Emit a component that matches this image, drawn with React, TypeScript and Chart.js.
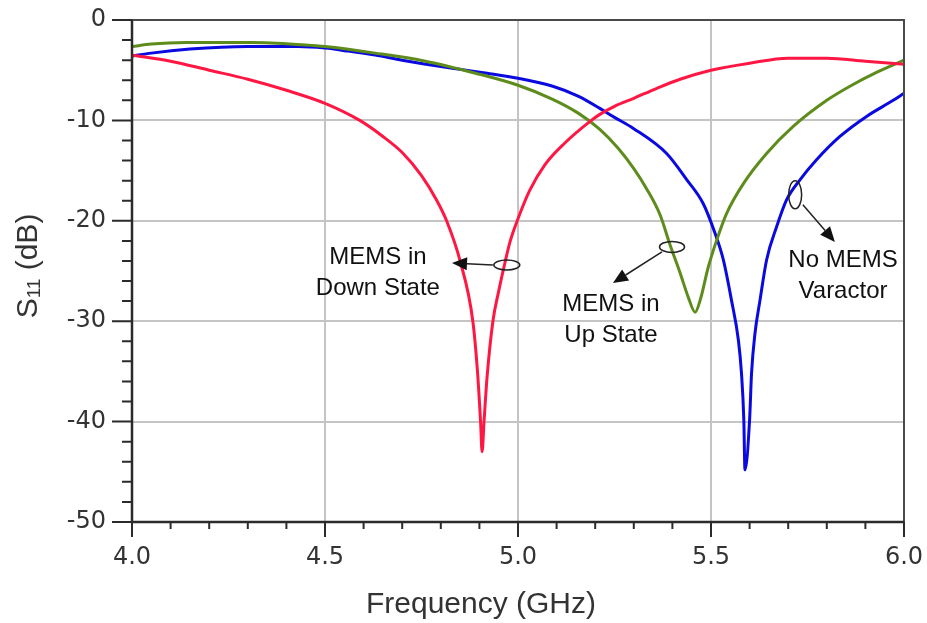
import React, { useEffect, useRef } from "react";
import { Chart, registerables } from "chart.js";

Chart.register(...registerables);

// ---- Data (frequency in GHz, S11 in dB) ----
const freqDown = [4.0, 4.1, 4.2, 4.3, 4.4, 4.5, 4.59, 4.65, 4.7, 4.75, 4.79, 4.815, 4.85, 4.883, 4.895, 4.903, 4.907, 4.912, 4.92, 4.935, 4.95, 4.966, 4.98, 4.998, 5.03, 5.07, 5.12, 5.19, 5.212, 5.25, 5.3, 5.36, 5.42, 5.5, 5.6, 5.7, 5.8, 5.9, 6.0];
const s11Down = [-3.5, -4.1, -5.0, -5.9, -7.0, -8.3, -10.0, -11.6, -13.2, -15.5, -18.0, -20.0, -24.0, -30.0, -35.0, -40.0, -43.0, -40.0, -35.5, -30.0, -27.0, -24.2, -22.0, -20.0, -17.0, -14.4, -12.3, -10.0, -9.4, -8.6, -7.8, -6.8, -5.9, -5.0, -4.3, -3.8, -3.8, -4.1, -4.4];

const freqUp = [4.0, 4.05, 4.14, 4.31, 4.45, 4.5, 4.63, 4.76, 4.89, 5.0, 5.09, 5.157, 5.212, 5.26, 5.3, 5.333, 5.368, 5.394, 5.42, 5.441, 5.459, 5.472, 5.493, 5.515, 5.54, 5.584, 5.644, 5.713, 5.8, 5.86, 5.93, 6.0];
const s11Up = [-2.65, -2.4, -2.25, -2.25, -2.5, -2.65, -3.3, -4.1, -5.3, -6.5, -7.9, -9.3, -10.9, -12.8, -14.8, -16.8, -19.4, -22.4, -25.2, -27.6, -29.1, -27.9, -24.6, -21.9, -19.3, -16.3, -13.3, -10.6, -8.0, -6.6, -5.2, -4.0];

const freqNone = [4.0, 4.05, 4.15, 4.3, 4.43, 4.5, 4.56, 4.63, 4.7, 4.83, 4.92, 5.0, 5.09, 5.157, 5.212, 5.25, 5.299, 5.385, 5.437, 5.48, 5.51, 5.532, 5.553, 5.571, 5.579, 5.585, 5.588, 5.6, 5.605, 5.614, 5.627, 5.644, 5.67, 5.696, 5.731, 5.774, 5.834, 5.903, 5.972, 6.0];
const s11None = [-3.6, -3.3, -2.9, -2.65, -2.65, -2.8, -3.1, -3.5, -4.0, -4.8, -5.3, -5.8, -6.6, -7.6, -8.8, -9.7, -10.8, -13.3, -15.9, -18.3, -21.2, -23.9, -27.9, -31.9, -35.2, -39.8, -44.8, -39.8, -35.2, -31.2, -27.9, -23.9, -20.6, -17.9, -15.9, -13.9, -11.6, -9.6, -8.0, -7.3];

const xMin = 4.0, xMax = 6.0, xMajor = 0.5, xMinor = 0.1;
const yMin = -50, yMax = 0, yMajor = 10, yMinor = 2;

// ---- Annotations ----
const noteTexts = [["MEMS in", "Down State"], ["MEMS in", "Up State"], ["No MEMS", "Varactor"]];
const noteAnchors = [[4.637, -23.6], [5.241, -28.3], [5.842, -23.9]];
const noteEllipses = [[4.971, -24.4, 13, 5], [5.399, -22.6, 12.5, 5.5], [5.718, -17.4, 6.5, 14]];
const noteArrowFrom = [[4.935, -24.4], [5.373, -23.1], [5.738, -18.4]];
const noteArrowTo = [[4.829, -24.2], [5.246, -26.2], [5.821, -22.1]];

const decorPlugin = {
  id: "decor",
  afterDraw(chart: any) {
    const { ctx, chartArea: a, scales } = chart;
    const x = scales.x, y = scales.y;
    ctx.save();
    // frame top/right
    ctx.strokeStyle = "#4a4a4a";
    ctx.lineWidth = 2;
    ctx.beginPath();
    ctx.moveTo(a.left, a.top);
    ctx.lineTo(a.right, a.top);
    ctx.lineTo(a.right, a.bottom);
    ctx.stroke();
    // axes left/bottom
    ctx.strokeStyle = "#2b2b2b";
    ctx.lineWidth = 2.5;
    ctx.beginPath();
    ctx.moveTo(a.left, a.top);
    ctx.lineTo(a.left, a.bottom);
    ctx.lineTo(a.right, a.bottom);
    ctx.stroke();
    // ticks
    ctx.lineWidth = 2;
    ctx.beginPath();
    const ny = Math.round((yMax - yMin) / yMinor);
    for (let i = 0; i <= ny; i++) {
      const v = yMax - i * yMinor;
      const py = y.getPixelForValue(v);
      const len = Math.abs(v % yMajor) < 1e-6 ? 20 : 10;
      ctx.moveTo(a.left - len, py);
      ctx.lineTo(a.left, py);
    }
    const nx = Math.round((xMax - xMin) / xMinor);
    for (let i = 0; i <= nx; i++) {
      const v = xMin + i * xMinor;
      const px = x.getPixelForValue(v);
      const len = i % Math.round(xMajor / xMinor) === 0 ? 15 : 7;
      ctx.moveTo(px, a.bottom);
      ctx.lineTo(px, a.bottom + len);
    }
    ctx.stroke();

    // axis titles
    ctx.fillStyle = "#333";
    ctx.font = "30px 'Liberation Sans', Arial, sans-serif";
    ctx.textAlign = "center";
    ctx.textBaseline = "alphabetic";
    ctx.fillText("Frequency (GHz)", 481, 613);

    ctx.save();
    ctx.translate(37, 266);
    ctx.rotate(-Math.PI / 2);
    const mainFont = "30px 'Liberation Sans', Arial, sans-serif";
    const subFont = "19px 'Liberation Sans', Arial, sans-serif";
    ctx.font = mainFont;
    const wS = ctx.measureText("S").width;
    const wRest = ctx.measureText(" (dB)").width;
    ctx.font = subFont;
    const wSub = ctx.measureText("11").width;
    let cx = -(wS + wSub + wRest) / 2;
    ctx.textAlign = "left";
    ctx.font = mainFont;
    ctx.fillText("S", cx, 0);
    cx += wS;
    ctx.font = subFont;
    ctx.fillText("11", cx, 3);
    cx += wSub;
    ctx.font = mainFont;
    ctx.fillText(" (dB)", cx, 0);
    ctx.restore();

    // annotations
    ctx.fillStyle = "#111";
    ctx.strokeStyle = "#222";
    ctx.font = "24px 'Liberation Sans', Arial, sans-serif";
    ctx.textAlign = "center";
    ctx.textBaseline = "middle";
    noteTexts.forEach((lines, i) => {
      const px = x.getPixelForValue(noteAnchors[i][0]);
      const py = y.getPixelForValue(noteAnchors[i][1]);
      lines.forEach((t, j) => ctx.fillText(t, px, py + j * 31));
    });
    ctx.lineWidth = 1.5;
    noteEllipses.forEach((e) => {
      ctx.beginPath();
      ctx.ellipse(x.getPixelForValue(e[0]), y.getPixelForValue(e[1]), e[2], e[3], 0, 0, Math.PI * 2);
      ctx.stroke();
    });
    noteArrowFrom.forEach((f, i) => {
      const x1 = x.getPixelForValue(f[0]), y1 = y.getPixelForValue(f[1]);
      const x2 = x.getPixelForValue(noteArrowTo[i][0]), y2 = y.getPixelForValue(noteArrowTo[i][1]);
      const ang = Math.atan2(y2 - y1, x2 - x1);
      const hl = 15, hw = 6.5;
      const bx = x2 - hl * Math.cos(ang), by = y2 - hl * Math.sin(ang);
      ctx.beginPath();
      ctx.moveTo(x1, y1);
      ctx.lineTo(bx, by);
      ctx.stroke();
      ctx.beginPath();
      ctx.moveTo(x2, y2);
      ctx.lineTo(bx + hw * Math.sin(ang), by - hw * Math.cos(ang));
      ctx.lineTo(bx - hw * Math.sin(ang), by + hw * Math.cos(ang));
      ctx.closePath();
      ctx.fill();
    });
    ctx.restore();
  },
};

const toPoints = (xs: number[], ys: number[]) => xs.map((v, i) => ({ x: v, y: ys[i] }));

export default function App() {
  const ref = useRef<HTMLCanvasElement | null>(null);
  useEffect(() => {
    if (!ref.current) return;
    const gridColor = "#c4c4c4";
    const chart = new Chart(ref.current, {
      type: "line",
      data: {
        datasets: [
          { label: "MEMS in Down State", data: toPoints(freqDown, s11Down), borderColor: "#ff1744", borderWidth: 3, pointRadius: 0, cubicInterpolationMode: "monotone" },
          { label: "MEMS in Up State", data: toPoints(freqUp, s11Up), borderColor: "#5e8c1c", borderWidth: 3, pointRadius: 0, cubicInterpolationMode: "monotone" },
          { label: "No MEMS Varactor", data: toPoints(freqNone, s11None), borderColor: "#0a0ae0", borderWidth: 3, pointRadius: 0, cubicInterpolationMode: "monotone" },
        ],
      },
      options: {
        animation: false,
        responsive: true,
        maintainAspectRatio: false,
        layout: { padding: { top: 20, right: 23, left: 0, bottom: 0 } },
        plugins: { legend: { display: false }, tooltip: { enabled: false } },
        scales: {
          x: {
            type: "linear",
            min: xMin,
            max: xMax,
            afterFit: (s: any) => { s.height = 101; s.paddingLeft = 0; s.paddingRight = 0; },
            border: { display: false },
            grid: { color: gridColor, lineWidth: 2, drawTicks: false },
            ticks: {
              stepSize: xMajor,
              padding: 21,
              color: "#333",
              font: { family: "'DejaVu Sans'", size: 24 },
              callback: (v: any) => Number(v).toFixed(1),
            },
          },
          y: {
            type: "linear",
            min: yMin,
            max: yMax,
            afterFit: (s: any) => { s.width = 132; s.paddingTop = 0; s.paddingBottom = 0; },
            border: { display: false },
            grid: { color: gridColor, lineWidth: 2, drawTicks: false },
            ticks: {
              stepSize: yMajor,
              padding: 26,
              color: "#333",
              font: { family: "'DejaVu Sans'", size: 24 },
            },
          },
        },
      },
      plugins: [decorPlugin],
    } as any);
    return () => chart.destroy();
  }, []);
  return (
    <div style={{ position: "fixed", left: 0, top: 0, width: 927, height: 623, background: "#fff" }}>
      <canvas ref={ref} />
    </div>
  );
}
